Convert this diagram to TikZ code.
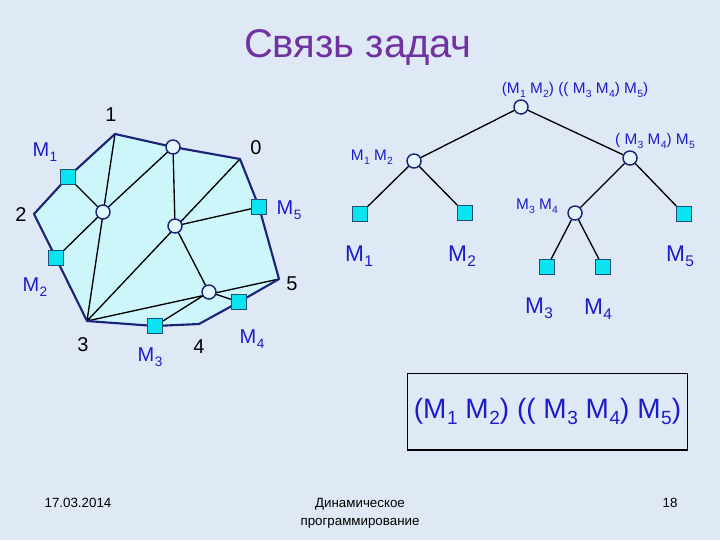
\documentclass[tikz,border=0pt]{standalone}
\usepackage{fontspec}
\setmainfont{Liberation Sans}
\usepackage{xcolor}
\usetikzlibrary{calc}
\usetikzlibrary{positioning}

\definecolor{bgblue}{RGB}{222,233,245}
\definecolor{polyfill}{RGB}{204,246,250}
\definecolor{navy}{RGB}{28,36,120}
\definecolor{sqfill}{RGB}{10,228,240}
\definecolor{sqedge}{RGB}{30,80,120}
\definecolor{mblue}{RGB}{28,28,200}
\definecolor{titlepurple}{RGB}{112,50,160}
\definecolor{circfill}{RGB}{226,246,252}

\newcommand{\Mi}[1]{M\kern0.02em\raisebox{-0.45ex}{\scalebox{0.68}{#1}}}
\newcommand{\fsz}[1]{\fontsize{#1}{1.2\dimexpr#1pt\relax}\selectfont}

\tikzset{
	vtx/.style={circle,draw=navy,fill=circfill,line width=1.1pt,minimum size=10.5pt,inner sep=0pt},
	leaf/.style={rectangle,draw=sqedge,fill=sqfill,line width=0.9pt,minimum size=11pt,inner sep=0pt},
	mlbl/.style={text=mblue,inner sep=0pt,font=\fsz{15}},
	numlbl/.style={text=black,inner sep=0pt,font=\fsz{15}},
	small/.style={text=mblue,inner sep=0pt,font=\fsz{11.5}},
	big/.style={text=mblue,inner sep=0pt,font=\fsz{17}},
	foot/.style={inner sep=0pt,font=\fontsize{10}{13.5}\selectfont},
}

\begin{document}
\begin{tikzpicture}[x=0.75pt,y=-0.75pt]
		\fill[bgblue] (0,0) rectangle (720,540);
		\useasboundingbox (0,0) rectangle (720,540);
		\node[text=titlepurple,font=\fsz{30}] (title) at (358,48) {Связь задач};
		% polygon
		\coordinate (p0) at (240,159);
		\coordinate (p1) at (115,134);
		\coordinate (p2) at (34,214);
		\coordinate (p3) at (87,321);
		\coordinate (p4) at (199,324);
		\coordinate (p5) at (279,279);
		\coordinate (cT) at (173,147);
		\coordinate (cL) at (103,212);
		\coordinate (cC) at (175,226);
		\coordinate (cB) at (209,292);
		\coordinate (q1) at (68,177);
		\coordinate (q2) at (56,258);
		\coordinate (q3) at (155,326);
		\coordinate (q4) at (239,302);
		\coordinate (q5) at (259,207);
		\fill[polyfill] (p1)--(cT)--(p0)--(q5)--(p5)--(q4)--(p4)--(q3)--(p3)--(q2)--(p2)--(q1)--cycle;
		\draw[line width=1pt] (p1)--(p3) (p0)--(p3) (p5)--(p3);
		\draw[line width=1pt] (q1)--(cL)--(q2) (cL)--(cT)--(cC)--(q5) (cC)--(cB)--(q4) (cB)--(q3);
		\draw[navy,line width=1.6pt,line join=round] (p1)--(cT)--(p0)--(q5)--(p5)--(q4)--(p4)--(q3)--(p3)--(q2)--(p2)--(q1)--cycle;
		\foreach \c in {cT,cL,cC,cB} \node[vtx] at (\c) {};
		\foreach \q in {q1,q2,q3,q4,q5} \node[leaf] at (\q) {};
		\node[numlbl] (n0) at (256,148) {0};
		\node[numlbl] (n1) at (111,115) {1};
		\node[numlbl] (n2) at (21,215) {2};
		\node[numlbl] (n3) at (83,345) {3};
		\node[numlbl] (n4) at (199,347) {4};
		\node[numlbl] (n5) at (292,284) {5};
		\node[mlbl] (l1) at (45,152) {\Mi1};
		\node[mlbl] (l2) at (35,287) {\Mi2};
		\node[mlbl] (l3) at (150,357) {\Mi3};
		\node[mlbl] (l4) at (252,339) {\Mi4};
		\node[mlbl] (l5) at (289,210) {\Mi5};
		% tree
		\node[vtx] (root) at (521,107) {};
		\node[vtx] (a12) at (414,161) {};
		\node[vtx] (a345) at (630,158) {};
		\node[vtx] (a34) at (575,213) {};
		\node[leaf] (t1) at (360,214) {};
		\node[leaf] (t2) at (465,213) {};
		\node[leaf] (t5) at (684,214) {};
		\node[leaf] (t3) at (547,267) {};
		\node[leaf] (t4) at (603,267) {};
		\draw[line width=1pt] (root)--(a12) (root)--(a345) (a12)--(t1) (a12)--(t2)
			(a345)--(a34) (a345)--(t5) (a34)--(t3) (a34)--(t4);
		\node[small] at (575,90) {(\Mi1 \Mi2) (( \Mi3 \Mi4) \Mi5)};
		\node[small] at (372,157) {\Mi1 \Mi2};
		\node[small] at (655,141) {( \Mi3 \Mi4) \Mi5};
		\node[small] at (537,206) {\Mi3 \Mi4};
		\node[big] at (359,256) {\Mi1};
		\node[big] at (462,256) {\Mi2};
		\node[big] at (680,256) {\Mi5};
		\node[big] at (539,308) {\Mi3};
		\node[big] at (598,309) {\Mi4};
		% result
		\node[draw=black,line width=1pt,minimum width=210pt,minimum height=57.5pt,
			text=mblue,font=\fsz{21}] (res) at (547.5,411.5) {(\Mi1 \Mi2) (( \Mi3 \Mi4) \Mi5)};
		% footer
		\node[foot] at (78,503) {17.03.2014};
		\node[foot,align=center] at (360,513) {Динамическое\\программирование};
		\node[foot] at (670,503) {18};
	\end{tikzpicture}
\end{document}
